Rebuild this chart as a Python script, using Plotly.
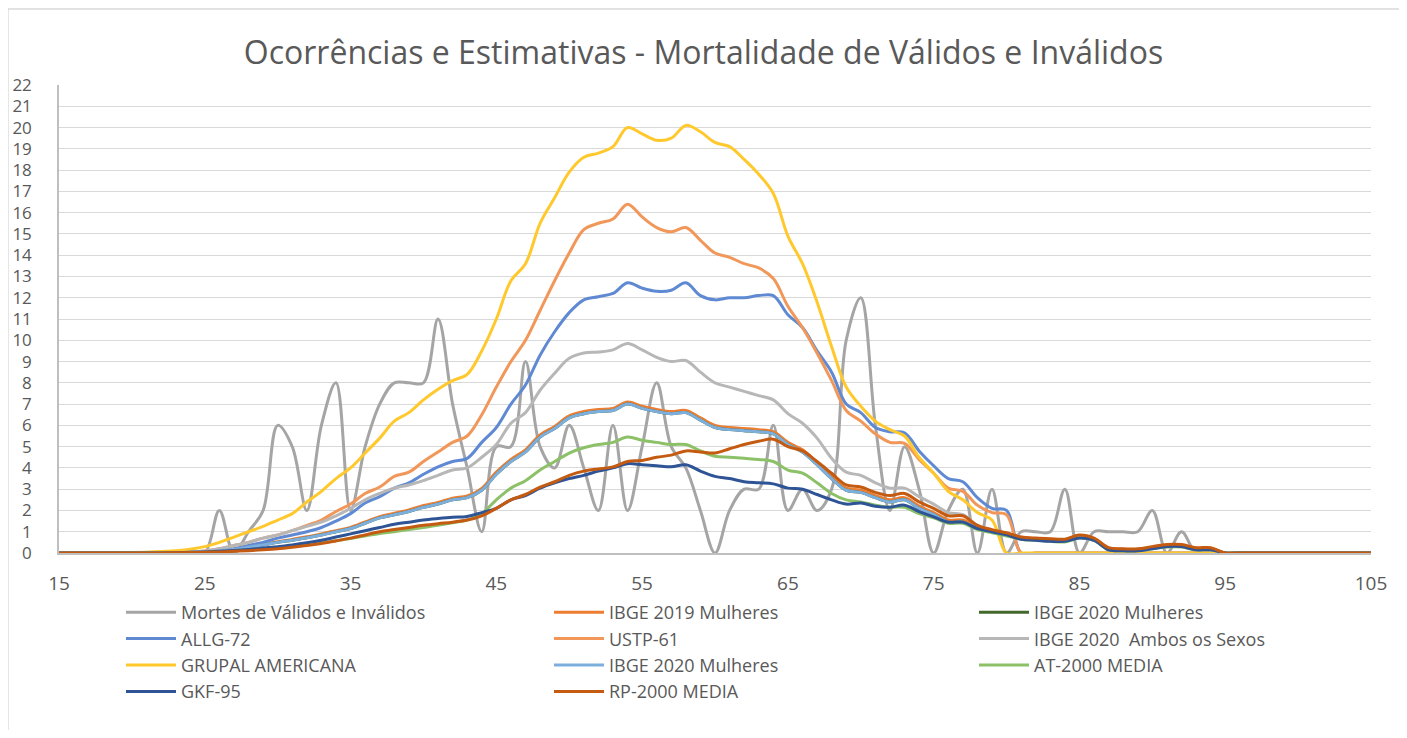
import plotly.graph_objects as go

ages = [15, 16, 17, 18, 19, 20, 21, 22, 23, 24, 25, 26, 27, 28, 29, 30, 31, 32, 33, 34,
        35, 36, 37, 38, 39, 40, 41, 42, 43, 44, 45, 46, 47, 48, 49, 50, 51, 52, 53, 54,
        55, 56, 57, 58, 59, 60, 61, 62, 63, 64, 65, 66, 67, 68, 69, 70, 71, 72, 73, 74,
        75, 76, 77, 78, 79, 80, 81, 82, 83, 84, 85, 86, 87, 88, 89, 90, 91, 92, 93, 94,
        95, 96, 97, 98, 99, 100, 101, 102, 103, 104, 105]

mortes = [0, 0, 0, 0, 0, 0, 0, 0, 0, 0, 0, 2, 0, 1, 2, 6, 5, 2, 6, 8,
          2, 5, 7, 8, 8, 8, 11, 7, 4, 1, 5, 5, 9, 5, 4, 6, 4, 2, 6, 2,
          5, 8, 5, 4, 2, 0, 2, 3, 3, 6, 2, 3, 2, 3, 10, 12, 6, 2, 5, 3,
          0, 2, 3, 0, 3, 0, 1, 1, 1, 3, 0, 1, 1, 1, 1, 2, 0, 1, 0, 0,
          0, 0, 0, 0, 0, 0, 0, 0, 0, 0, 0]

ibge2019_mulheres = [0, 0, 0, 0, 0, 0, 0, 0, 0.01, 0.03, 0.06, 0.11, 0.18, 0.29, 0.4, 0.53, 0.64, 0.76, 0.9, 1.05,
                     1.2, 1.46, 1.71, 1.87, 2.02, 2.23, 2.38, 2.58, 2.68, 3.04, 3.8, 4.4, 4.85, 5.55, 5.95, 6.45, 6.65, 6.75, 6.8, 7.1,
                     6.9, 6.75, 6.65, 6.7, 6.35, 6.0, 5.9, 5.85, 5.8, 5.7, 5.2, 4.85, 4.25, 3.6, 3.05, 2.95, 2.7, 2.5, 2.6, 2.2,
                     1.9, 1.55, 1.55, 1.22, 1.06, 0.9, 0.74, 0.68, 0.63, 0.6, 0.8, 0.67, 0.22, 0.17, 0.17, 0.27, 0.37, 0.37, 0.22, 0.22,
                     0, 0, 0, 0, 0, 0, 0, 0, 0, 0, 0]

ibge2020_mulheres = [0, 0, 0, 0, 0, 0, 0, 0, 0.01, 0.03, 0.06, 0.1, 0.17, 0.27, 0.38, 0.5, 0.6, 0.72, 0.85, 1.0,
                     1.15, 1.4, 1.65, 1.8, 1.95, 2.15, 2.3, 2.5, 2.6, 2.95, 3.7, 4.3, 4.75, 5.45, 5.85, 6.35, 6.55, 6.65, 6.7, 7.0,
                     6.8, 6.65, 6.55, 6.6, 6.25, 5.9, 5.8, 5.75, 5.7, 5.6, 5.1, 4.75, 4.15, 3.5, 2.95, 2.85, 2.6, 2.4, 2.5, 2.1,
                     1.8, 1.45, 1.45, 1.15, 1.0, 0.85, 0.7, 0.65, 0.6, 0.58, 0.78, 0.65, 0.2, 0.15, 0.15, 0.25, 0.35, 0.35, 0.2, 0.2,
                     0, 0, 0, 0, 0, 0, 0, 0, 0, 0, 0]

allg72 = [0, 0, 0, 0, 0, 0, 0, 0, 0.01, 0.03, 0.07, 0.12, 0.2, 0.35, 0.5, 0.7, 0.85, 1.0, 1.2, 1.5,
          1.85, 2.35, 2.65, 3.05, 3.3, 3.7, 4.05, 4.3, 4.45, 5.2, 5.9, 7.0, 7.9, 9.3, 10.4, 11.3, 11.9, 12.05, 12.2, 12.7,
          12.45, 12.3, 12.35, 12.7, 12.1, 11.9, 12.0, 12.0, 12.1, 12.1, 11.2, 10.6, 9.5, 8.5, 7.0, 6.6, 5.9, 5.7, 5.65, 4.8,
          4.1, 3.5, 3.35, 2.6, 2.1, 2.0, 0, 0, 0, 0, 0, 0, 0, 0, 0, 0, 0, 0, 0, 0,
          0, 0, 0, 0, 0, 0, 0, 0, 0, 0, 0]

ustp61 = [0, 0, 0, 0, 0, 0, 0, 0, 0.02, 0.05, 0.1, 0.2, 0.35, 0.5, 0.7, 0.85, 1.05, 1.3, 1.55, 1.95,
          2.3, 2.8, 3.1, 3.6, 3.8, 4.3, 4.75, 5.2, 5.5, 6.5, 7.8, 9.0, 10.0, 11.4, 12.8, 14.1, 15.2, 15.5, 15.7, 16.4,
          15.8, 15.3, 15.1, 15.3, 14.7, 14.1, 13.9, 13.6, 13.4, 12.9, 11.6, 10.6, 9.4, 8.1, 6.7, 6.2, 5.6, 5.2, 5.15, 4.4,
          3.75, 3.05, 2.9, 2.25, 1.9, 1.8, 0, 0, 0, 0, 0, 0, 0, 0, 0, 0, 0, 0, 0, 0,
          0, 0, 0, 0, 0, 0, 0, 0, 0, 0, 0]

ibge2020_ambos = [0, 0, 0, 0, 0, 0, 0, 0, 0.02, 0.05, 0.1, 0.2, 0.35, 0.5, 0.7, 0.85, 1.05, 1.25, 1.45, 1.75,
                  2.1, 2.5, 2.8, 3.05, 3.2, 3.4, 3.65, 3.9, 4.0, 4.5, 5.1, 6.1, 6.6, 7.65, 8.45, 9.15, 9.4, 9.45, 9.55, 9.85,
                  9.55, 9.2, 9.0, 9.05, 8.5, 8.0, 7.8, 7.6, 7.4, 7.2, 6.55, 6.1, 5.4, 4.45, 3.8, 3.65, 3.3, 3.05, 3.05, 2.65,
                  2.3, 1.9, 1.8, 1.3, 1.05, 0.9, 0.7, 0.65, 0.6, 0.55, 0.75, 0.6, 0.2, 0.15, 0.15, 0.25, 0.3, 0.3, 0.2, 0.2,
                  0, 0, 0, 0, 0, 0, 0, 0, 0, 0, 0]

grupal_americana = [0, 0, 0, 0, 0.01, 0.02, 0.04, 0.07, 0.1, 0.18, 0.3, 0.5, 0.75, 1.0, 1.25, 1.55, 1.85, 2.4, 2.9, 3.5,
                    4.0, 4.7, 5.4, 6.2, 6.6, 7.2, 7.7, 8.1, 8.4, 9.5, 11.0, 12.8, 13.6, 15.5, 16.7, 17.9, 18.6, 18.8, 19.1, 20.0,
                    19.7, 19.4, 19.5, 20.1, 19.8, 19.3, 19.1, 18.5, 17.8, 16.9, 14.9, 13.6, 11.8, 9.7, 7.8, 6.9, 6.2, 5.8, 5.5, 4.5,
                    3.75, 2.9, 2.5, 1.9, 1.55, 0, 0, 0, 0, 0, 0, 0, 0, 0, 0, 0, 0, 0, 0, 0,
                    0, 0, 0, 0, 0, 0, 0, 0, 0, 0, 0]

at2000_media = [0, 0, 0, 0, 0, 0, 0, 0, 0.01, 0.02, 0.04, 0.07, 0.1, 0.14, 0.2, 0.26, 0.33, 0.4, 0.48, 0.58,
                0.68, 0.8, 0.92, 1.0, 1.1, 1.2, 1.3, 1.42, 1.55, 1.85, 2.5, 3.05, 3.4, 3.9, 4.3, 4.7, 4.95, 5.1, 5.2, 5.45,
                5.3, 5.2, 5.1, 5.1, 4.8, 4.55, 4.5, 4.45, 4.4, 4.3, 3.9, 3.75, 3.3, 2.8, 2.5, 2.4, 2.25, 2.15, 2.15, 1.85,
                1.65, 1.4, 1.4, 1.1, 0.95, 0.8, 0.65, 0.6, 0.55, 0.52, 0.7, 0.6, 0.15, 0.1, 0.1, 0.2, 0.28, 0.28, 0.15, 0.15,
                0, 0, 0, 0, 0, 0, 0, 0, 0, 0, 0]

gkf95 = [0, 0, 0, 0, 0, 0, 0, 0, 0.01, 0.03, 0.05, 0.08, 0.12, 0.17, 0.23, 0.3, 0.38, 0.48, 0.6, 0.75,
         0.9, 1.05, 1.2, 1.35, 1.45, 1.55, 1.62, 1.68, 1.72, 1.9, 2.1, 2.5, 2.7, 3.05, 3.3, 3.5, 3.65, 3.85, 4.0, 4.2,
         4.15, 4.1, 4.05, 4.15, 3.85, 3.6, 3.5, 3.35, 3.3, 3.25, 3.05, 3.0, 2.75, 2.5, 2.3, 2.35, 2.2, 2.15, 2.25, 1.95,
         1.7, 1.45, 1.45, 1.15, 1.0, 0.85, 0.65, 0.6, 0.55, 0.55, 0.7, 0.6, 0.15, 0.1, 0.1, 0.2, 0.3, 0.3, 0.15, 0.15,
         0, 0, 0, 0, 0, 0, 0, 0, 0, 0, 0]

rp2000_media = [0, 0, 0, 0, 0, 0, 0, 0, 0.01, 0.02, 0.03, 0.05, 0.08, 0.11, 0.15, 0.2, 0.27, 0.35, 0.45, 0.57,
                0.7, 0.85, 1.0, 1.1, 1.2, 1.3, 1.38, 1.45, 1.55, 1.75, 2.1, 2.5, 2.75, 3.1, 3.35, 3.65, 3.85, 3.95, 4.05, 4.3,
                4.35, 4.5, 4.6, 4.8, 4.75, 4.7, 4.9, 5.1, 5.25, 5.35, 5.0, 4.8, 4.3, 3.75, 3.2, 3.1, 2.85, 2.7, 2.8, 2.4,
                2.1, 1.75, 1.75, 1.3, 1.1, 0.95, 0.75, 0.7, 0.67, 0.65, 0.85, 0.7, 0.25, 0.2, 0.2, 0.3, 0.4, 0.4, 0.25, 0.25,
                0, 0, 0, 0, 0, 0, 0, 0, 0, 0, 0]

x_ticks = [15, 25, 35, 45, 55, 65, 75, 85, 95, 105]
y_ticks = list(range(0, 23))

# (name, values, color, legend column)
series = [
    ("Mortes de Válidos e Inválidos", mortes, "#A5A5A5", "legend"),
    ("IBGE 2019 Mulheres", ibge2019_mulheres, "#ED7D31", "legend2"),
    ("IBGE 2020 Mulheres", ibge2020_mulheres, "#43682B", "legend3"),
    ("ALLG-72", allg72, "#5F8AD3", "legend"),
    ("USTP-61", ustp61, "#F1975A", "legend2"),
    ("IBGE 2020  Ambos os Sexos", ibge2020_ambos, "#B7B7B7", "legend3"),
    ("GRUPAL AMERICANA", grupal_americana, "#FFC92E", "legend"),
    ("IBGE 2020 Mulheres", ibge2020_mulheres, "#7CAFDD", "legend2"),
    ("AT-2000 MEDIA", at2000_media, "#8CC168", "legend3"),
    ("GKF-95", gkf95, "#2E5496", "legend"),
    ("RP-2000 MEDIA", rp2000_media, "#C55A11", "legend2"),
]

fig = go.Figure()
for name, vals, color, leg in series:
    fig.add_trace(go.Scatter(
        x=ages, y=vals, name=name, mode="lines",
        line=dict(color=color, width=3, shape="spline", smoothing=1.0),
        legend=leg, hoverinfo="skip",
    ))

# page has an 8px body margin; figure sized to fit the 1407x738 window
W, H = 1391, 722
L, R, T, B = 51, 28, 77, 177
font_family = "'Open Sans', Lato, sans-serif"
txt = "#595959"

def lx(px):
    return px / W

def ly(py):
    return 1 - py / H

PW, PH = W - L - R, H - T - B

legend_common = dict(
    xref="container", yref="container", xanchor="left", yanchor="top",
    bgcolor="rgba(0,0,0,0)", font=dict(family=font_family, size=18, color=txt),
    itemwidth=50, tracegroupgap=0, traceorder="normal",
)

fig.update_layout(
    width=W, height=H,
    margin=dict(l=L, r=R, t=T, b=B, autoexpand=False),
    paper_bgcolor="white", plot_bgcolor="white",
    font=dict(family=font_family, color=txt),
    title=dict(
        text="Ocorrências e Estimativas - Mortalidade de Válidos e Inválidos",
        x=0.5, xref="container", xanchor="center",
        y=ly(45), yref="container", yanchor="middle",
        font=dict(family=font_family, size=32, color=txt),
    ),
    xaxis=dict(
        range=[15, 105], tickvals=x_ticks, ticktext=[str(v) for v in x_ticks],
        showgrid=False, zeroline=False, showline=True, linecolor="#BFBFBF", linewidth=1.5,
        ticks="", tickfont=dict(family=font_family, size=19, color=txt),
        ticklabelstandoff=12,
    ),
    yaxis=dict(
        range=[0, 22], tickvals=y_ticks,
        showgrid=True, gridcolor="#D9D9D9", gridwidth=1.3, zeroline=False,
        showline=True, linecolor="#BFBFBF", linewidth=1.5,
        ticks="", tickfont=dict(family=font_family, size=17, color=txt),
        ticklabelstandoff=22,
    ),
    legend=dict(x=lx(113), y=ly(586), **legend_common),
    legend2=dict(x=lx(541), y=ly(586), **legend_common),
    legend3=dict(x=lx(966), y=ly(586), **legend_common),
    shapes=[dict(
        type="rect", xref="paper", yref="paper",
        x0=(0 - L) / PW, x1=(1392 - L) / PW,
        y0=(H - B - 729) / PH, y1=(H - B - 1) / PH,
        line=dict(color="#D9D9D9", width=1.3), fillcolor="rgba(0,0,0,0)", layer="below",
    )],
)

fig.write_html("out.html")
